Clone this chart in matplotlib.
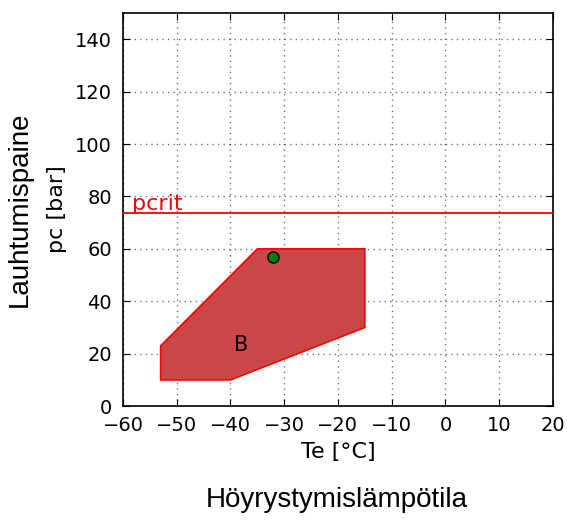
import numpy as np
import matplotlib
matplotlib.use("Agg")
import matplotlib.pyplot as plt
from matplotlib.patches import Polygon

# alue B (Te, pc)
area_te = [-53, -40, -15, -15, -35, -53]
area_pc = [10, 10, 30, 60, 60, 23]
point_te = [-32]
point_pc = [57]
pcrit = 73.8
xticks = [-60, -50, -40, -30, -20, -10, 0, 10, 20]
yticks = [0, 20, 40, 60, 80, 100, 120, 140]

fig = plt.figure(figsize=(5.67, 5.2), dpi=100)
ax = fig.add_axes([0.217, 0.219, 0.758, 0.756])

poly = Polygon(np.column_stack([area_te, area_pc]), closed=True,
               facecolor=(0.79, 0.28, 0.28), edgecolor="red", linewidth=1.2, zorder=2)
ax.add_patch(poly)
ax.text(-38, 23.5, "B", fontsize=15, ha="center", va="center", zorder=3)
ax.axhline(pcrit, color="red", linewidth=1.3, zorder=3)
ax.text(-58.3, pcrit - 0.5, "pcrit", color="red", fontsize=16, va="bottom", zorder=3)
ax.plot(point_te, point_pc, "o", color="green", markeredgecolor="black",
        markersize=8, zorder=4)

ax.set_xlim(-60, 20)
ax.set_ylim(0, 150)
ax.set_xticks(xticks)
ax.set_yticks(yticks)
ax.grid(True, color="black", linestyle=(0, (1, 3)), linewidth=1.0, alpha=0.55)
ax.set_axisbelow(True)
ax.tick_params(direction="in", top=True, right=True, labelsize=14, length=5)
ax.tick_params(axis="y", pad=8)
ax.tick_params(axis="x", pad=7)
for s in ax.spines.values():
    s.set_linewidth(1.2)
ax.set_xlabel("Te [°C]", fontsize=16, labelpad=5)
ax.set_ylabel("pc [bar]", fontsize=16, labelpad=6)

fig.text(0.594, 0.038, "Höyrystymislämpötila", fontsize=20, family="Liberation Sans",
         ha="center", va="center")
fig.text(0.034, 0.598, "Lauhtumispaine", fontsize=20, family="Liberation Sans",
         rotation=90, ha="center", va="center")

fig.savefig("out.png", dpi=100)
